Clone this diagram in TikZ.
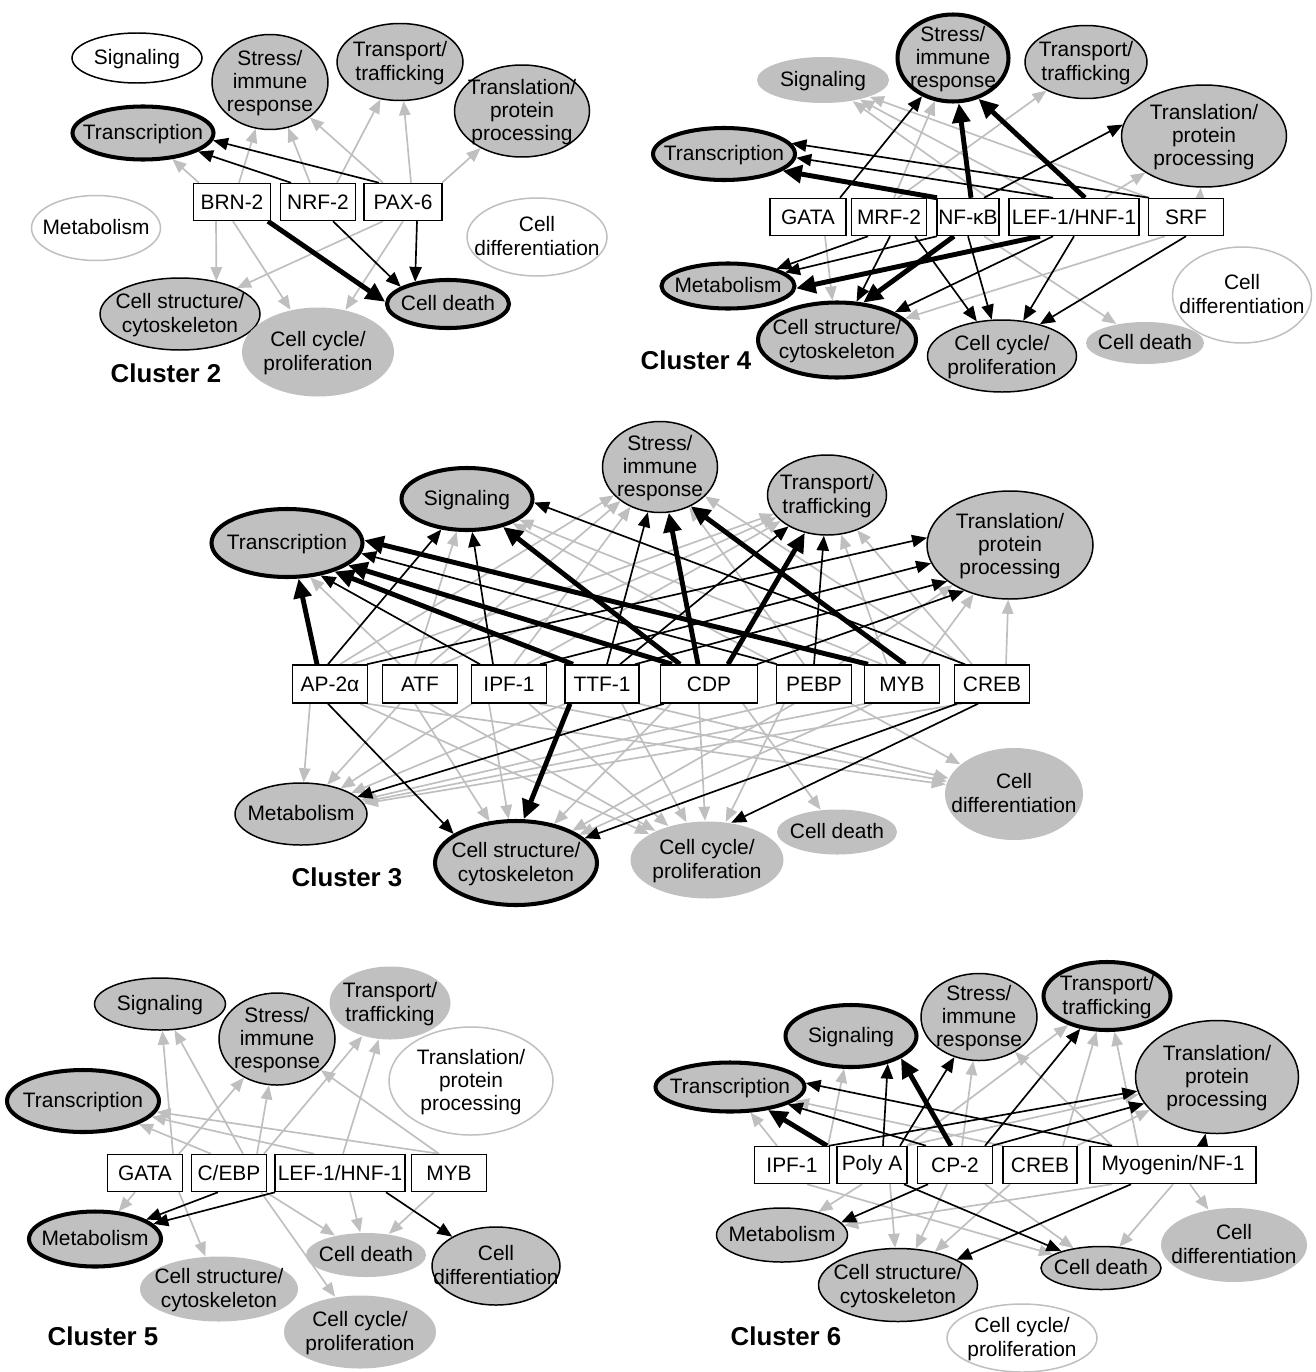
\documentclass[tikz,border=0pt]{standalone}
\usepackage{fontspec}
\setmainfont{Liberation Sans}
\usepackage{tikz}
\usetikzlibrary{arrows.meta, shapes, backgrounds}
\definecolor{catgray}{RGB}{192,192,192}
\definecolor{linegray}{RGB}{191,191,191}
% category text, kept out of the ellipse size
\newcommand{\cattext}[1]{\makebox[0pt]{\raisebox{\dimexpr\depth-0.5\totalheight-1pt\relax}[0pt][0pt]{\begin{tabular}{@{}c@{}}#1\end{tabular}}}}

\begin{document}
\begin{tikzpicture}[x=0.02cm, y=-0.02cm,
  font=\fontsize{11.9}{13.3}\selectfont,
  sz/.style 2 args={minimum width=#1*0.02cm, minimum height=#2*0.02cm},
  cat/.style={ellipse, inner sep=0pt, fill=catgray, draw=black, line width=0.85pt},
  catthick/.style={cat, line width=2.3pt},
  catbare/.style={cat, draw=none},
  catopen/.style={cat, fill=white},
  catpale/.style={cat, fill=white, draw=linegray},
  tf/.style={rectangle, draw, fill=white, line width=0.85pt, inner sep=0pt},
  weak/.style={draw=linegray, line width=0.95pt, -{Triangle[length=8pt,width=6.5pt]}},
  link/.style={draw=black, line width=0.95pt, -{Triangle[length=8.5pt,width=7pt]}},
  strong/.style={draw=black, line width=2.8pt, -{Triangle[length=11pt,width=10pt]}},
  clabel/.style={font=\fontsize{14.7}{17}\selectfont\bfseries}]
\useasboundingbox (0,0) rectangle (1315,1372);

%% Cluster 2
\node[catopen, sz={130}{50}] (sig2) at (137,58) {\cattext{Signaling}};
\node[cat, sz={116}{95}] (str2) at (270,82) {\cattext{Stress/\\immune\\response}};
\node[cat, sz={126}{77}] (tp2) at (400,62) {\cattext{Transport/\\trafficking}};
\node[cat, sz={135}{92}] (tl2) at (522,111) {\cattext{Translation/\\protein\\processing}};
\node[catthick, sz={141}{53}] (tr2) at (143,133) {\cattext{Transcription}};
\node[catpale, sz={129}{65}] (met2) at (96,228) {\cattext{Metabolism}};
\node[catpale, sz={140}{78}] (dif2) at (537,237) {\cattext{Cell\\differentiation}};
\node[cat, sz={160}{72}] (cs2) at (180,314) {\cattext{Cell structure/\\cytoskeleton}};
\node[catbare, sz={152}{89}] (cc2) at (318,352) {\cattext{Cell cycle/\\proliferation}};
\node[catthick, sz={122}{48}] (cd2) at (448,304) {\cattext{Cell death}};
\node[tf, sz={77}{37}] (brn) at (232,202) {BRN-2};
\node[tf, sz={75}{37}] (nrf) at (318,202) {NRF-2};
\node[tf, sz={78}{37}] (pax) at (403,202) {PAX-6};
\node[clabel] (lab2) at (166,373) {Cluster 2};

%% Cluster 4
\node[catbare, sz={132}{46}] (sig4) at (823,80) {\cattext{Signaling}};
\node[catthick, sz={111}{87}] (str4) at (953,58) {\cattext{Stress/\\immune\\response}};
\node[cat, sz={122}{73}] (tp4) at (1086,62) {\cattext{Transport/\\trafficking}};
\node[cat, sz={165}{102}] (tl4) at (1204,136) {\cattext{Translation/\\protein\\processing}};
\node[catthick, sz={142}{52}] (tr4) at (724,154) {\cattext{Transcription}};
\node[catthick, sz={133}{45}] (met4) at (728,286) {\cattext{Metabolism}};
\node[catthick, sz={158}{75}] (cs4) at (837,340) {\cattext{Cell structure/\\cytoskeleton}};
\node[cat, sz={149}{72}] (cc4) at (1002,356) {\cattext{Cell cycle/\\proliferation}};
\node[catbare, sz={118}{42}] (cd4) at (1145,343) {\cattext{Cell death}};
\node[catpale, sz={139}{96}] (dif4) at (1242,295) {\cattext{Cell\\differentiation}};
\node[tf, sz={76}{37}] (gata4) at (808,217) {GATA};
\node[tf, sz={75}{37}] (mrf4) at (889,217) {MRF-2};
\node[tf, sz={62}{37}] (nfkb4) at (968,217) {NF-κB};
\node[tf, sz={130}{37}] (lef4) at (1074,217) {LEF-1/HNF-1};
\node[tf, sz={75}{37}] (srf4) at (1186,217) {SRF};
\node[clabel] (lab4) at (696,360) {Cluster 4};

%% Cluster 3
\node[catthick, sz={131}{62}] (sig3) at (467,499) {\cattext{Signaling}};
\node[catthick, sz={151}{68}] (tr3) at (287,543) {\cattext{Transcription}};
\node[cat, sz={115}{91}] (str3) at (660,467) {\cattext{Stress/\\immune\\response}};
\node[cat, sz={119}{80}] (tp3) at (827,495) {\cattext{Transport/\\trafficking}};
\node[cat, sz={166}{108}] (tl3) at (1010,545) {\cattext{Translation/\\protein\\processing}};
\node[cat, sz={132}{62}] (met3) at (301,814) {\cattext{Metabolism}};
\node[catthick, sz={162}{84}] (cs3) at (516,863) {\cattext{Cell structure/\\cytoskeleton}};
\node[catbare, sz={153}{77}] (cc3) at (707,860) {\cattext{Cell cycle/\\proliferation}};
\node[catbare, sz={120}{45}] (cd3) at (837,832) {\cattext{Cell death}};
\node[catbare, sz={138}{92}] (dif3) at (1014,794) {\cattext{Cell\\differentiation}};
\node[tf, sz={75}{38}] (ap3) at (330,684) {AP-2α};
\node[tf, sz={75}{38}] (atf3) at (420,684) {ATF};
\node[tf, sz={75}{38}] (ipf3) at (509,684) {IPF-1};
\node[tf, sz={74}{38}] (ttf3) at (602,684) {TTF-1};
\node[tf, sz={97}{38}] (cdp3) at (709,684) {CDP};
\node[tf, sz={75}{38}] (pebp3) at (814,684) {PEBP};
\node[tf, sz={75}{38}] (myb3) at (902,684) {MYB};
\node[tf, sz={75}{38}] (creb3) at (992,684) {CREB};
\node[clabel] (lab3) at (347,877) {Cluster 3};

%% Cluster 5
\node[cat, sz={131}{52}] (sig5) at (160,1004) {\cattext{Signaling}};
\node[cat, sz={116}{92}] (str5) at (277,1039) {\cattext{Stress/\\immune\\response}};
\node[catbare, sz={121}{73}] (tp5) at (390,1003) {\cattext{Transport/\\trafficking}};
\node[catpale, sz={164}{108}] (tl5) at (471,1081) {\cattext{Translation/\\protein\\processing}};
\node[catthick, sz={152}{62}] (tr5) at (83,1101) {\cattext{Transcription}};
\node[catthick, sz={132}{55}] (met5) at (95,1239) {\cattext{Metabolism}};
\node[catbare, sz={120}{44}] (cd5) at (366,1255) {\cattext{Cell death}};
\node[cat, sz={128}{78}] (dif5) at (496,1266) {\cattext{Cell\\differentiation}};
\node[catbare, sz={158}{65}] (cs5) at (219,1289) {\cattext{Cell structure/\\cytoskeleton}};
\node[catbare, sz={152}{73}] (cc5) at (360,1332) {\cattext{Cell cycle/\\proliferation}};
\node[tf, sz={75}{37}] (gata5) at (145,1173) {GATA};
\node[tf, sz={75}{37}] (cebp5) at (229,1173) {C/EBP};
\node[tf, sz={130}{37}] (lef5) at (340,1173) {LEF-1/HNF-1};
\node[tf, sz={75}{37}] (myb5) at (449,1173) {MYB};
\node[clabel] (lab5) at (103,1336) {Cluster 5};

%% Cluster 6
\node[catthick, sz={131}{62}] (sig6) at (851,1036) {\cattext{Signaling}};
\node[cat, sz={116}{87}] (str6) at (979,1017) {\cattext{Stress/\\immune\\response}};
\node[catthick, sz={127}{68}] (tp6) at (1107,996) {\cattext{Transport/\\trafficking}};
\node[cat, sz={163}{113}] (tl6) at (1217,1077) {\cattext{Translation/\\protein\\processing}};
\node[catthick, sz={149}{49}] (tr6) at (730,1087) {\cattext{Transcription}};
\node[cat, sz={131}{54}] (met6) at (782,1235) {\cattext{Metabolism}};
\node[catbare, sz={146}{74}] (dif6) at (1234,1245) {\cattext{Cell\\differentiation}};
\node[cat, sz={159}{73}] (cs6) at (898,1285) {\cattext{Cell structure/\\cytoskeleton}};
\node[cat, sz={120}{43}] (cd6) at (1101,1268) {\cattext{Cell death}};
\node[catpale, sz={150}{68}] (cc6) at (1022,1338) {\cattext{Cell cycle/\\proliferation}};
\node[tf, sz={75}{37}] (ipf6) at (792,1165) {IPF-1};
\node[tf, sz={70}{37}] (polya6) at (872,1165) {Poly A};
\node[tf, sz={75}{37}] (cp6) at (955,1165) {CP-2};
\node[tf, sz={74}{37}] (creb6) at (1040,1165) {CREB};
\node[tf, sz={166}{37}] (myo6) at (1173,1165) {Myogenin/NF-1};
\node[clabel] (lab6) at (786,1336) {Cluster 6};

\begin{scope}[on background layer]
 % grey links, upwards
 \foreach \src/\off/\dst in {brn/-33/tr2, brn/7/str2, nrf/-8/str2, nrf/19/tp2, pax/-20/str2, pax/8/tp2, pax/39/tl2,
   mrf4/9/tp4, mrf4/5/str4, nfkb4/20/sig4, lef4/-30/sig4, srf4/-37/sig4, lef4/31/tl4, srf4/14/tl4,
   atf3/-20/tr3.-56, atf3/-5/sig3, ap3/10/str3, ap3/22/tp3, atf3/10/str3, atf3/22/tp3, ipf3/5/str3, ipf3/18/tp3,
   pebp3/-37/sig3, myb3/-20/sig3, pebp3/-10/str3, creb3/-30/str3, myb3/-15/tp3, creb3/-20/tp3,
   myb3/20/tl3, pebp3/25/tl3, creb3/14/tl3,
   gata5/28/sig5, gata5/34/str5, cebp5/28/str5, cebp5/14/sig5, cebp5/35/tp5, cebp5/-18/tr5, lef5/-26/tr5, lef5/3/tp5, myb5/-10/tr5, myb5/-10/str5,
   ipf6/-15/tr6, ipf6/36/sig6, creb6/-37/tr6, cp6/7/str6, polya6/35/tp6, creb6/23/tp6, myo6/-35/tp6, myo6/-61/str6, polya6/35/tl6, creb6/37/tl6}
  \draw[weak] ([shift={(\off,0)}]\src.north) -- (\dst);
 % grey links, downwards
 \foreach \src/\off/\dst in {brn/-16/cs2.42, brn/1/cc2, pax/-20/cs2, pax/0/cc2,
   gata4/17/cs4, srf4/-21/cs4, nfkb4/16/cd4,
   ap3/-20/met3, atf3/-20/met3, ipf3/-37/met3, ttf3/-37/met3, pebp3/-37/met3, myb3/-37/met3, creb3/-30/met3,
   atf3/-5/cs3, ipf3/-20/cs3, cdp3/-38/cs3, pebp3/-20/cs3, myb3/-30/cs3,
   atf3/10/cc3, ap3/30/cc3, ipf3/20/cc3, ttf3/20/cc3, cdp3/-10/cc3, pebp3/-30/cc3, cdp3/34/cd3,
   ap3/37/dif3, ipf3/30/dif3, ttf3/37/dif3, pebp3/37/dif3,
   gata5/-10/met5, gata5/34/cs5, cebp5/32/cc5, cebp5/37/cd5, lef5/10/cd5, myb5/-15/cd5,
   ipf6/15/cd6, polya6/-10/met6, polya6/18/cs6, cp6/-8/cs6, creb6/-30/cs6, cp6/30/cd6, myo6/-61/met6, myo6/0/cd6, myo6/17/dif6}
  \draw[weak] ([shift={(\off,0)}]\src.south) -- (\dst);
 % black links, upwards
 \foreach \src/\off/\dst in {nrf/-27/tr2, pax/-24/tr2.-6,
   gata4/32/str4, srf4/-37/tr4.9, lef4/-21/tr4.-3, nfkb4/16/tl4.172,
   ap3/-2/sig3, ipf3/-16/sig3, ipf3/-29/tr3.-44, ttf3/5/str3, ttf3/18/tp3, ttf3/33/tl3.210, cdp3/48/tl3.225,
   ap3/37/tl3.175, ipf3/31/tl3.193, pebp3/-37/tr3.-8, pebp3/0/tp3, creb3/-27/sig3.-3,
   polya6/11/sig6.-37, polya6/28/str6, cp6/30/tp6, ipf6/37/tl6, cp6/37/tl6.200, myo6/30/tl6, myo6/-61/tr6.3, cp6/-29/tr6}
  \draw[link] ([shift={(\off,0)}]\src.north) -- (\dst);
 % black links, downwards
 \foreach \src/\off/\dst in {nrf/15/cd2.160, pax/14/cd2.146,
   mrf4/-21/met4, nfkb4/-31/met4, mrf4/1/cs4, mrf4/26/cc4, nfkb4/0/cc4, lef4/-21/cs4, lef4/0/cc4, srf4/0/cc4.40,
   cdp3/-45/met3, ap3/-2/cs3.155, creb3/-35/cs3, creb3/-14/cc3.57,
   cebp5/-11/met5, lef5/-65/met5, lef5/46/dif5,
   cp6/-27/met6.12, polya6/32/cd6, myo6/-42/cs6}
  \draw[link] ([shift={(\off,0)}]\src.south) -- (\dst);
 % heavy links
 \foreach \src/\off/\dst in {nfkb4/3/str4, lef4/11/str4.-58, nfkb4/-31/tr4.-16,
   ap3/-13/tr3.-72, ttf3/-29/tr3.-31, cdp3/-37/tr3.-20, cdp3/-29/sig3, cdp3/-11/str3, cdp3/19/tp3, myb3/-34/tr3.2, myb3/3/str3.-52,
   ipf6/35/tr6, cp6/-4/sig6.-24}
  \draw[strong] ([shift={(\off,0)}]\src.north) -- (\dst);
 \foreach \src/\off/\dst in {brn/36/cd2.178, nfkb4/-14/cs4.55, lef4/-34/met4.-2, ttf3/-32/cs3.80}
  \draw[strong] ([shift={(\off,0)}]\src.south) -- (\dst);
\end{scope}
\end{tikzpicture}
\end{document}
